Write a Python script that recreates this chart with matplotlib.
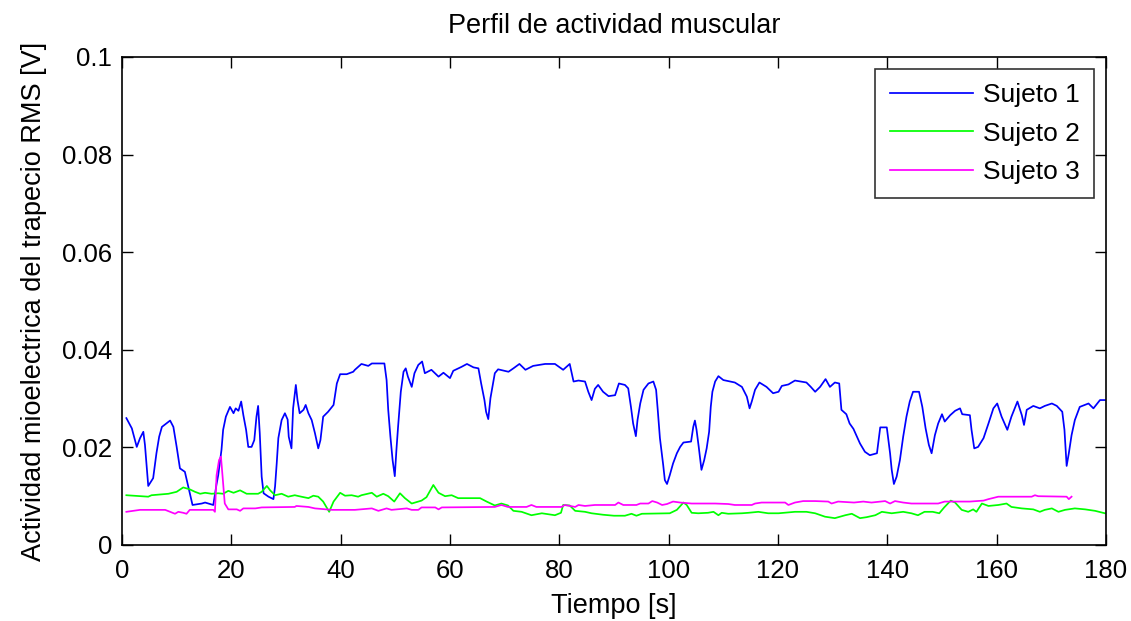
import matplotlib
matplotlib.use("Agg")
import matplotlib.pyplot as plt

plt.rcParams['font.family'] = ['Liberation Sans', 'DejaVu Sans']

title = "Perfil de actividad muscular"
xlabel = "Tiempo [s]"
ylabel = "Actividad mioelectrica del trapecio RMS [V]"
labels = ["Sujeto 1", "Sujeto 2", "Sujeto 3"]
xticks = [0, 20, 40, 60, 80, 100, 120, 140, 160, 180]
yticks = [0, 0.02, 0.04, 0.06, 0.08, 0.1]
yticklabels = ["0", "0.02", "0.04", "0.06", "0.08", "0.1"]

t1 = [0.8, 1.8, 2.7, 3.3, 3.9, 4.2, 4.6, 4.8, 5.7, 6.3, 6.8, 7.3, 8.8, 9.4, 10.0, 10.6, 11.5, 12.0, 12.4, 12.9,
      14.6, 15.2, 16.7, 17.3, 17.6, 18.2, 18.5, 19.0, 19.75, 20.4, 20.8, 21.3, 21.8, 22.2, 22.7, 23.1, 23.7, 24.2,
      24.6, 24.9, 25.2, 25.55, 25.9, 26.8, 27.7, 28.0, 28.3, 28.6, 29.2, 29.8, 30.3, 30.5, 31.0, 31.3, 31.8, 32.1,
      32.5, 33.2, 33.6, 34.1, 34.7, 35.3, 35.9, 36.3, 36.8, 37.7, 38.7, 39.3, 39.9, 41.1, 42.3, 42.6, 43.8, 45.05,
      45.7, 48.0, 48.4, 48.7, 49.1, 49.5, 49.9, 50.2, 50.5, 51.0, 51.5, 51.9, 52.3, 53.0, 53.5, 54.2, 54.9, 55.4,
      56.6, 57.9, 58.8, 60.0, 60.6, 62.1, 63.1, 64.3, 65.2, 65.7, 66.3, 66.6, 67.0, 67.4, 68.2, 68.8, 70.7, 71.6,
      72.7, 73.8, 75.2, 77.4, 79.2, 80.7, 81.9, 82.6, 83.5, 84.7, 85.3, 85.9, 86.5, 87.1, 88.0, 89.0, 90.2, 90.9,
      92.0, 92.6, 93.1, 93.5, 94.0, 94.3, 94.8, 95.4, 96.3, 97.2, 97.7, 98.0, 98.4, 99.0, 99.3, 99.7, 100.2, 100.8,
      101.5, 102.1, 102.7, 104.1, 104.5, 104.8, 105.1, 105.5, 106.0, 106.5, 106.95, 107.4, 107.7, 108.0, 108.5,
      109.1, 110.0, 112.1, 113.4, 114.3, 114.8, 115.2, 115.8, 116.6, 117.9, 119.1, 120.1, 120.7, 121.9, 123.1,
      125.2, 126.0, 126.8, 127.7, 128.7, 129.5, 130.4, 131.2, 131.6, 132.5, 133.1, 133.8, 135.0, 135.9, 136.8,
      138.1, 138.7, 139.9, 140.5, 140.8, 141.2, 141.7, 142.3, 142.9, 143.5, 144.1, 144.7, 145.8, 146.4, 147.0,
      147.6, 148.1, 148.7, 149.3, 150.0, 150.5, 151.5, 152.4, 153.3, 153.7, 155.1, 155.4, 155.9, 156.6, 157.6,
      158.5, 159.4, 160.1, 160.9, 161.95, 162.7, 163.8, 164.6, 165.0, 165.5, 166.7, 167.9, 168.8, 170.1, 171.0,
      172.0, 172.4, 172.8, 173.2, 173.7, 174.3, 175.2, 176.8, 177.7, 178.9, 179.8]
v1 = [0.026, 0.0239, 0.0201, 0.0219, 0.0232, 0.0205, 0.015, 0.0121, 0.0137, 0.0188, 0.0222, 0.0242, 0.0255, 0.0242,
      0.0201, 0.0157, 0.015, 0.0126, 0.0106, 0.0082, 0.0085, 0.0087, 0.0082, 0.0125, 0.0143, 0.0195, 0.0236, 0.0263,
      0.0283, 0.027, 0.028, 0.0275, 0.0294, 0.0266, 0.0236, 0.0201, 0.0201, 0.0215, 0.0263, 0.0285, 0.0229, 0.014,
      0.0106, 0.0099, 0.0094, 0.012, 0.0167, 0.0219, 0.0256, 0.027, 0.0257, 0.0222, 0.0198, 0.028, 0.0328, 0.0297,
      0.027, 0.0277, 0.0287, 0.027, 0.0256, 0.0229, 0.0198, 0.0215, 0.0263, 0.0273, 0.0287, 0.0331, 0.035, 0.035,
      0.0355, 0.0359, 0.0371, 0.0367, 0.0372, 0.0372, 0.0338, 0.0277, 0.0222, 0.0174, 0.0141, 0.0195, 0.0242, 0.0314,
      0.0355, 0.0362, 0.0345, 0.0324, 0.0352, 0.0369, 0.0376, 0.0352, 0.0359, 0.0345, 0.0353, 0.0342, 0.0357, 0.0365,
      0.0371, 0.0364, 0.0362, 0.0331, 0.0297, 0.0273, 0.0258, 0.0301, 0.0352, 0.036, 0.0355, 0.0362, 0.0371, 0.0359,
      0.0367, 0.0371, 0.0371, 0.0359, 0.0371, 0.0335, 0.0337, 0.0335, 0.0314, 0.0297, 0.032, 0.0328, 0.0314, 0.0305,
      0.0307, 0.0331, 0.0328, 0.0321, 0.0283, 0.0249, 0.0223, 0.0256, 0.029, 0.0318, 0.0331, 0.0335, 0.0318, 0.0277,
      0.0219, 0.0164, 0.0133, 0.0125, 0.0143, 0.0167, 0.0188, 0.0201, 0.021, 0.0212, 0.0242, 0.0255, 0.0236, 0.0201,
      0.0154, 0.0174, 0.0198, 0.0232, 0.0283, 0.0314, 0.0335, 0.0346, 0.0338, 0.0333, 0.0324, 0.0304, 0.028, 0.0294,
      0.0318, 0.0333, 0.0324, 0.0311, 0.0314, 0.0326, 0.0329, 0.0337, 0.0333, 0.0324, 0.0314, 0.0324, 0.034, 0.0324,
      0.0333, 0.0331, 0.0277, 0.0268, 0.0249, 0.0238, 0.0208, 0.0191, 0.0184, 0.0188, 0.0241, 0.0241, 0.0188, 0.0154,
      0.0125, 0.014, 0.0174, 0.0222, 0.0263, 0.0294, 0.0314, 0.0314, 0.0283, 0.0239, 0.0205, 0.0188, 0.0225, 0.0249,
      0.0268, 0.0253, 0.0266, 0.0275, 0.028, 0.0268, 0.0266, 0.0236, 0.0198, 0.0201, 0.0219, 0.0249, 0.028, 0.029,
      0.0263, 0.0236, 0.0263, 0.0294, 0.0266, 0.0246, 0.0277, 0.0285, 0.028, 0.0285, 0.029, 0.0285, 0.0273, 0.0236,
      0.0162, 0.0188, 0.0225, 0.0256, 0.0283, 0.029, 0.028, 0.0297, 0.0297]

t2 = [0.8, 4.8, 5.4, 8.5, 10.0, 11.2, 12.4, 13.35, 14.3, 15.2, 16.4, 17.6, 18.5, 19.45, 20.4, 21.6, 22.8, 24.9,
      25.55, 26.5, 27.1, 28.0, 29.2, 30.4, 31.6, 32.8, 34.1, 35.0, 35.9, 36.8, 37.9, 38.7, 39.9, 40.8, 42.0, 43.2,
      43.8, 45.7, 46.6, 47.8, 48.7, 49.8, 50.85, 51.75, 53.0, 54.8, 55.7, 56.95, 57.9, 59.1, 60.3, 61.5, 65.5, 66.7,
      68.2, 69.4, 70.6, 71.6, 73.1, 74.9, 76.8, 79.2, 80.3, 80.7, 81.9, 82.9, 84.7, 85.9, 88.0, 90.0, 92.0, 93.2,
      94.1, 95.1, 100.2, 101.5, 102.7, 103.3, 104.2, 105.4, 107.2, 108.2, 109.1, 109.7, 110.9, 113.4, 114.6, 116.4,
      118.2, 120.1, 123.1, 125.2, 126.8, 128.6, 130.4, 132.3, 133.5, 135.0, 136.2, 137.8, 139.0, 140.8, 142.9,
      144.4, 145.6, 146.8, 148.3, 149.5, 150.4, 151.6, 152.4, 153.6, 154.8, 155.7, 156.3, 157.3, 158.5, 160.3,
      161.8, 162.7, 164.6, 166.7, 167.9, 168.8, 170.1, 171.3, 172.5, 174.3, 176.2, 178.0, 179.8]
v2 = [0.0102, 0.0099, 0.0102, 0.0105, 0.0109, 0.0118, 0.0114, 0.0109, 0.0105, 0.0107, 0.0105, 0.0106, 0.0105,
      0.0111, 0.0107, 0.0112, 0.0105, 0.0105, 0.0109, 0.0121, 0.0112, 0.0102, 0.0105, 0.0099, 0.0102, 0.0099,
      0.0096, 0.0101, 0.0099, 0.0089, 0.0068, 0.0089, 0.0107, 0.0101, 0.0102, 0.0099, 0.0102, 0.0107, 0.0099,
      0.0105, 0.01, 0.0089, 0.0106, 0.0096, 0.0085, 0.0091, 0.0098, 0.0123, 0.0107, 0.01, 0.0102, 0.0096, 0.0096,
      0.0089, 0.0081, 0.0085, 0.0081, 0.007, 0.0068, 0.0061, 0.0065, 0.0061, 0.0066, 0.0082, 0.0081, 0.007, 0.0068,
      0.0065, 0.0062, 0.006, 0.006, 0.0064, 0.006, 0.0064, 0.0065, 0.0072, 0.0087, 0.0082, 0.0066, 0.0065, 0.0066,
      0.0068, 0.0061, 0.0066, 0.0064, 0.0065, 0.0066, 0.0068, 0.0065, 0.0065, 0.0068, 0.0068, 0.0065, 0.0058,
      0.0055, 0.0061, 0.0064, 0.0055, 0.0057, 0.0061, 0.0068, 0.0065, 0.0068, 0.0065, 0.0061, 0.0068, 0.0068,
      0.0065, 0.0077, 0.0091, 0.0087, 0.0072, 0.0068, 0.0073, 0.0068, 0.0085, 0.008, 0.0082, 0.0085, 0.0078,
      0.0075, 0.0073, 0.0068, 0.0072, 0.0075, 0.0068, 0.0072, 0.0075, 0.0073, 0.007, 0.0065]

t3 = [0.8, 3.3, 7.9, 8.8, 9.7, 10.3, 11.2, 11.8, 12.4, 16.7, 17.0, 17.3, 17.75, 18.1, 18.35, 18.8, 19.45, 21.0,
      21.6, 22.2, 24.4, 25.55, 31.6, 31.9, 34.1, 35.3, 38.4, 42.6, 45.7, 46.9, 48.4, 49.3, 52.1, 53.0, 54.2, 54.8,
      57.3, 57.9, 58.5, 68.2, 69.4, 70.6, 74.0, 74.9, 75.8, 80.4, 81.0, 82.9, 83.5, 84.7, 86.5, 90.2, 90.8, 91.7,
      94.1, 94.8, 96.3, 97.0, 97.9, 98.8, 99.7, 100.8, 102.1, 104.2, 108.5, 110.9, 112.1, 115.2, 115.8, 117.0,
      121.3, 121.9, 123.1, 124.6, 126.8, 129.2, 129.8, 131.0, 133.9, 135.6, 137.1, 139.6, 140.5, 141.4, 142.9,
      144.4, 149.3, 150.5, 155.1, 157.6, 158.5, 160.3, 166.4, 167.0, 167.6, 172.8, 173.2, 173.7]
v3 = [0.0068, 0.0072, 0.0072, 0.0068, 0.0064, 0.0068, 0.0066, 0.0064, 0.0072, 0.0072, 0.0068, 0.0143, 0.0174,
      0.0181, 0.0147, 0.0085, 0.0073, 0.0073, 0.007, 0.0075, 0.0075, 0.0077, 0.0078, 0.008, 0.0078, 0.0075, 0.0072,
      0.0072, 0.0075, 0.007, 0.0075, 0.0072, 0.0075, 0.0072, 0.0072, 0.0077, 0.0077, 0.0073, 0.0077, 0.0078,
      0.0082, 0.0078, 0.0078, 0.0082, 0.0078, 0.0078, 0.0082, 0.0078, 0.0082, 0.008, 0.0082, 0.0082, 0.0087,
      0.0082, 0.0082, 0.0085, 0.0085, 0.009, 0.0087, 0.0082, 0.0084, 0.0089, 0.0087, 0.0085, 0.0085, 0.0084,
      0.0082, 0.0082, 0.0085, 0.0087, 0.0087, 0.0082, 0.0087, 0.009, 0.009, 0.0089, 0.0085, 0.0089, 0.0087,
      0.0089, 0.0087, 0.009, 0.0085, 0.009, 0.0087, 0.0085, 0.0085, 0.0089, 0.0089, 0.0091, 0.0094, 0.0099,
      0.0099, 0.0102, 0.01, 0.0099, 0.0094, 0.0099]

fig = plt.figure(figsize=(11.31, 6.21), dpi=100, facecolor='white')
ax = fig.add_axes([122/1131, 1 - 545/621, (1106-122)/1131, (545-57)/621])

lw = 1.25
ax.plot(t1, v1, color=(0.0, 0.0, 1.0), lw=lw, label=labels[0])
ax.plot(t2, v2, color=(0.0, 1.0, 0.0), lw=lw, label=labels[1])
ax.plot(t3, v3, color=(1.0, 0.0, 1.0), lw=lw, label=labels[2])

ax.set_xlim(0, 180)
ax.set_ylim(0, 0.1)
ax.set_xticks(xticks)
ax.set_xticklabels([str(x) for x in xticks])
ax.set_yticks(yticks)
ax.set_yticklabels(yticklabels)

ax.tick_params(direction='in', length=8, width=1.0, top=True, right=True,
               labelsize=18.5, colors='black')
ax.tick_params(axis='x', pad=10)
ax.tick_params(axis='y', pad=7)
for s in ax.spines.values():
    s.set_linewidth(1.2)
    s.set_color('black')

ax.set_title(title, fontsize=19.5, pad=17)
ax.set_xlabel(xlabel, fontsize=19.5, labelpad=7)
ax.set_ylabel(ylabel, fontsize=19.5, labelpad=11)

leg = ax.legend(loc='upper right', prop={'size': 19}, frameon=True, fancybox=False,
                handlelength=3.15, handletextpad=0.38, labelspacing=0.54,
                borderpad=0.55, borderaxespad=0.45)
leg.get_frame().set_edgecolor('black')
leg.get_frame().set_linewidth(1.2)

fig.savefig('out.png', dpi=100, facecolor='white')
